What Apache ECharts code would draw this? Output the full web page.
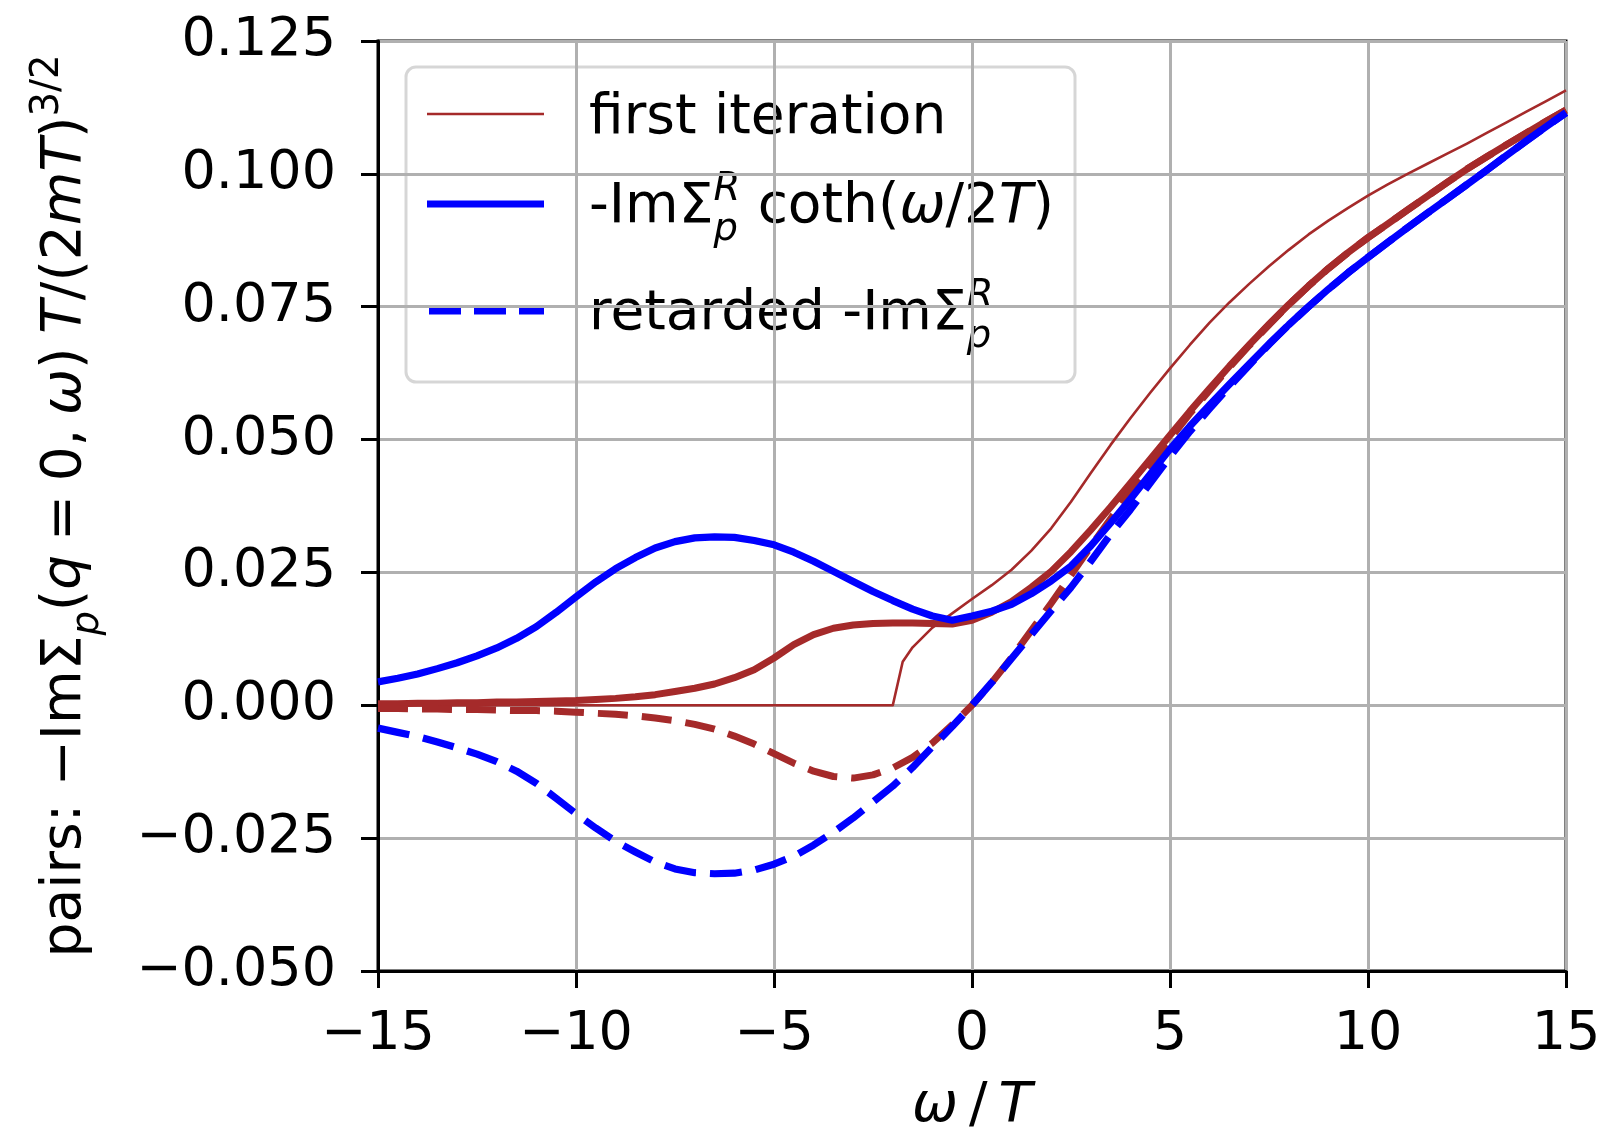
<!DOCTYPE html>
<html>
<head>
<meta charset="utf-8">
<script src="https://cdn.jsdelivr.net/npm/echarts@6/dist/echarts.min.js"></script>
<style>
  html, body { margin: 0; padding: 0; background: #ffffff; }
  #chart { width: 1610px; height: 1139px; }
</style>
</head>
<body>
<div id="chart"></div>
<script>
// ω/T sampling grid shared by most curves
const omega = [-15, -14.5, -14, -13.5, -13, -12.5, -12, -11.5, -11, -10.5, -10, -9.5, -9, -8.5, -8, -7.5, -7, -6.5, -6, -5.5,
  -5, -4.5, -4, -3.5, -3, -2.5, -2, -1.5, -1, -0.5, 0, 0.5, 1, 1.5, 2, 2.5, 3, 3.5, 4, 4.5,
  5, 5.5, 6, 6.5, 7, 7.5, 8, 8.5, 9, 9.5, 10, 10.5, 11, 11.5, 12, 12.5, 13, 13.5, 14, 14.5, 15];

// first iteration needs an extra sample at the threshold kink
const omegaFirst = [-15, -14.5, -14, -13.5, -13, -12.5, -12, -11.5, -11, -10.5, -10, -9.5, -9, -8.5, -8, -7.5, -7, -6.5, -6, -5.5,
  -5, -4.5, -4, -3.5, -3, -2.5, -2, -1.75, -1.5, -1, -0.5, 0, 0.5, 1, 1.5, 2, 2.5, 3, 3.5, 4, 4.5,
  5, 5.5, 6, 6.5, 7, 7.5, 8, 8.5, 9, 9.5, 10, 10.5, 11, 11.5, 12, 12.5, 13, 13.5, 14, 14.5, 15];

const firstIteration = [0, 0, 0, 0, 0, 0, 0, 0, 0, 0, 0, 0, 0, 0, 0, 0, 0, 0, 0, 0,
  0, 0, 0, 0, 0, 0, 0, 0.0082, 0.0109, 0.0146, 0.0173, 0.0200, 0.0226, 0.0255, 0.0291, 0.0333, 0.0383, 0.0437, 0.0490, 0.0540, 0.0588,
  0.0634, 0.0678, 0.0720, 0.0758, 0.0793, 0.0826, 0.0857, 0.0886, 0.0912, 0.0936, 0.0959, 0.0980, 0.1000, 0.1019, 0.1038, 0.1057, 0.1077, 0.1097, 0.1117, 0.1137, 0.1157];

// converged pair self-energy (brown): -ImΣ coth and retarded -ImΣ
const brownCoth = [0.0003, 0.0003, 0.0004, 0.0004, 0.0005, 0.0005, 0.0006, 0.0006, 0.0007, 0.0008, 0.0009, 0.0011, 0.0013, 0.0016, 0.0020, 0.0026, 0.0032, 0.0040, 0.0052, 0.0067,
  0.0089, 0.0114, 0.0133, 0.0145, 0.0151, 0.0154, 0.0155, 0.0155, 0.0154, 0.0153, 0.0160, 0.0175, 0.0195, 0.0222, 0.0252, 0.0289, 0.0330, 0.0373, 0.0418, 0.0463,
  0.0508, 0.0553, 0.0596, 0.0638, 0.0678, 0.0717, 0.0754, 0.0789, 0.0822, 0.0852, 0.0880, 0.0906, 0.0932, 0.0958, 0.0984, 0.1009, 0.1032, 0.1055, 0.1077, 0.1099, 0.1120];

const brownRetarded = [-0.0006, -0.0006, -0.0007, -0.0007, -0.0008, -0.0008, -0.0009, -0.0010, -0.0010, -0.0011, -0.0013, -0.0015, -0.0017, -0.0020, -0.0024, -0.0029, -0.0036, -0.0045, -0.0058, -0.0073,
  -0.0091, -0.0109, -0.0124, -0.0134, -0.0137, -0.0131, -0.0118, -0.0098, -0.0071, -0.0037, 0, 0.0043, 0.0090, 0.0141, 0.0192, 0.0245, 0.0299, 0.0351, 0.0403, 0.0453,
  0.0501, 0.0549, 0.0593, 0.0636, 0.0677, 0.0716, 0.0754, 0.0789, 0.0822, 0.0852, 0.0880, 0.0906, 0.0932, 0.0958, 0.0984, 0.1009, 0.1032, 0.1055, 0.1077, 0.1099, 0.1120];

// blue: -ImΣ^R coth(ω/2T) and retarded -ImΣ^R
const blueCoth = [0.0044, 0.0051, 0.0059, 0.0069, 0.0080, 0.0093, 0.0108, 0.0126, 0.0148, 0.0175, 0.0204, 0.0232, 0.0257, 0.0278, 0.0296, 0.0308, 0.0315, 0.0317, 0.0316, 0.0310,
  0.0302, 0.0288, 0.0271, 0.0252, 0.0233, 0.0214, 0.0197, 0.0181, 0.0168, 0.0160, 0.0168, 0.0177, 0.0190, 0.0210, 0.0234, 0.0262, 0.0300, 0.0343, 0.0388, 0.0435,
  0.0482, 0.0525, 0.0565, 0.0604, 0.0642, 0.0680, 0.0716, 0.0750, 0.0783, 0.0814, 0.0843, 0.0871, 0.0899, 0.0926, 0.0953, 0.0980, 0.1007, 0.1035, 0.1062, 0.1089, 0.1115];

const blueRetarded = [-0.0043, -0.0051, -0.0059, -0.0069, -0.0080, -0.0092, -0.0106, -0.0124, -0.0147, -0.0175, -0.0204, -0.0231, -0.0256, -0.0276, -0.0295, -0.0308, -0.0315, -0.0317, -0.0316, -0.0310,
  -0.0299, -0.0284, -0.0263, -0.0239, -0.0212, -0.0182, -0.0152, -0.0117, -0.0078, -0.0040, 0, 0.0043, 0.0088, 0.0133, 0.0178, 0.0222, 0.0271, 0.0322, 0.0368, 0.0418,
  0.0468, 0.0515, 0.0558, 0.0600, 0.0640, 0.0679, 0.0716, 0.0750, 0.0783, 0.0814, 0.0843, 0.0871, 0.0899, 0.0926, 0.0953, 0.0980, 0.1007, 0.1035, 0.1062, 0.1089, 0.1115];

const xTicks = { min: -15, max: 15, step: 5 };
const yTicks = { min: -0.05, max: 0.125, step: 0.025 };

const BROWN = '#a52a2a';
const BLUE = '#0000ff';
const FONT = '"DejaVu Sans", sans-serif';

const pairs = (xs, ys) => xs.map((x, i) => [x, ys[i]]);
const minusSign = s => s.replace('-', '\u2212');

// ---- tiny mathtext-like layout for labels with sub/superscripts ----
const measureCtx = document.createElement('canvas').getContext('2d');
function measure(text, size, italic) {
  measureCtx.font = (italic ? 'italic ' : '') + size + 'px ' + FONT;
  return measureCtx.measureText(text).width;
}
function layoutMath(pieces, size) {
  let x = 0, lastStart = 0;
  const items = [];
  pieces.forEach(p => {
    const s = (p.sub || p.sup) ? size * 0.7 : size;
    const w = measure(p.t, s, p.it);
    const start = p.stack ? lastStart : x;
    const dy = p.sub ? 0.3 * size : (p.sup ? -0.43 * size : 0);
    items.push({ t: p.t, x: start, dy: dy, s: s, it: !!p.it });
    if (p.stack) { x = Math.max(x, start + w); } else { lastStart = start; x = start + w; }
  });
  return { items: items, width: x };
}
function mathElements(layout, ox, baseline) {
  return layout.items.map(it => ({
    type: 'text',
    x: ox + it.x,
    y: baseline + it.dy - 0.346 * it.s,
    style: {
      text: it.t,
      font: (it.it ? 'italic ' : '') + it.s + 'px ' + FONT,
      fill: '#000000',
      verticalAlign: 'middle',
      textVerticalAlign: 'middle',
      align: 'left',
      textAlign: 'left'
    }
  }));
}

const LABEL_SIZE = 55;

const yTitle = layoutMath([
  { t: 'pairs: ' }, { t: '\u2212Im\u03A3' }, { t: 'p', it: true, sub: true }, { t: '(' }, { t: 'q', it: true },
  { t: '\u2005=\u20050,\u2005' }, { t: '\u03C9', it: true }, { t: ')\u2005' }, { t: 'T', it: true }, { t: '/(2' },
  { t: 'mT', it: true }, { t: ')' }, { t: '3/2', sup: true }
], LABEL_SIZE);

const xTitle = layoutMath([
  { t: '\u03C9', it: true }, { t: '\u2009/\u2009' }, { t: 'T', it: true }
], LABEL_SIZE);

const legendRows = [
  layoutMath([{ t: 'first iteration' }], LABEL_SIZE),
  layoutMath([{ t: '-Im\u03A3' }, { t: 'p', it: true, sub: true }, { t: 'R', it: true, sup: true, stack: true },
    { t: ' coth(' }, { t: '\u03C9', it: true }, { t: '/2' }, { t: 'T', it: true }, { t: ')' }], LABEL_SIZE),
  layoutMath([{ t: 'retarded -Im\u03A3' }, { t: 'p', it: true, sub: true }, { t: 'R', it: true, sup: true, stack: true }], LABEL_SIZE)
];

const plot = { left: 378, top: 41, width: 1188, height: 930 };
const yMid = plot.top + plot.height / 2;

const legendGroup = {
  type: 'group',
  z: 100,
  children: [
    { type: 'rect', shape: { x: 406, y: 67, width: 669, height: 315, r: 10 },
      style: { fill: 'rgba(255,255,255,0.8)', stroke: 'rgba(204,204,204,0.8)', lineWidth: 3 } },
    { type: 'line', shape: { x1: 427, y1: 114, x2: 544, y2: 114 }, style: { stroke: BROWN, lineWidth: 2.6 } },
    { type: 'line', shape: { x1: 427, y1: 204, x2: 544, y2: 204 }, style: { stroke: BLUE, lineWidth: 7.2 } },
    { type: 'line', shape: { x1: 429, y1: 311, x2: 544, y2: 311 }, style: { stroke: BLUE, lineWidth: 7.2, lineDash: [32, 13] } }
  ]
    .concat(mathElements(legendRows[0], 589, 138))
    .concat(mathElements(legendRows[1], 589, 227))
    .concat(mathElements(legendRows[2], 589, 334))
};

const yTitleGroup = {
  type: 'group',
  x: 85,
  y: yMid + yTitle.width / 2,
  rotation: Math.PI / 2,
  children: mathElements(yTitle, 0, 0)
};

const xTitleGroup = {
  type: 'group',
  children: mathElements(xTitle, plot.left + plot.width / 2 - xTitle.width / 2, 1126)
};

const chart = echarts.init(document.getElementById('chart'), null, { renderer: 'canvas' });

const axisCommon = {
  axisLine: { show: true, onZero: false, lineStyle: { color: '#000', width: 3 } },
  axisTick: { show: true, inside: false, length: 17, lineStyle: { color: '#000', width: 3 } },
  splitLine: { show: true, lineStyle: { color: '#b0b0b0', width: 3 } }
};

chart.setOption({
  animation: false,
  backgroundColor: '#ffffff',
  grid: {
    left: plot.left, top: plot.top, width: plot.width, height: plot.height,
    show: true, borderColor: '#000', borderWidth: 3, backgroundColor: 'transparent', containLabel: false
  },
  xAxis: Object.assign({
    type: 'value',
    min: xTicks.min, max: xTicks.max, interval: xTicks.step,
    axisLabel: {
      fontSize: 54, fontFamily: FONT, color: '#000', margin: 37,
      formatter: v => minusSign(String(v))
    }
  }, axisCommon),
  yAxis: Object.assign({
    type: 'value',
    min: yTicks.min, max: yTicks.max, interval: yTicks.step,
    axisLabel: {
      fontSize: 54, fontFamily: FONT, color: '#000', margin: 42,
      formatter: v => Math.abs(v) < 1e-9 ? '0.000' : minusSign(v.toFixed(3))
    }
  }, axisCommon),
  series: [
    { name: 'first iteration', type: 'line', data: pairs(omegaFirst, firstIteration), showSymbol: false,
      lineStyle: { color: BROWN, width: 2.6, join: 'round' }, z: 2 },
    { name: 'pairs coth', type: 'line', data: pairs(omega, brownCoth), showSymbol: false,
      lineStyle: { color: BROWN, width: 7, join: 'round' }, z: 3 },
    { name: 'pairs retarded', type: 'line', data: pairs(omega, brownRetarded), showSymbol: false,
      lineStyle: { color: BROWN, width: 7, type: [30, 14], join: 'round' }, z: 4 },
    { name: '-ImΣ coth', type: 'line', data: pairs(omega, blueCoth), showSymbol: false,
      lineStyle: { color: BLUE, width: 7.2, join: 'round' }, z: 5 },
    { name: 'retarded -ImΣ', type: 'line', data: pairs(omega, blueRetarded), showSymbol: false,
      lineStyle: { color: BLUE, width: 7.2, type: [32, 14], join: 'round' }, z: 6 }
  ],
  graphic: [legendGroup, yTitleGroup, xTitleGroup]
});
</script>
</body>
</html>
